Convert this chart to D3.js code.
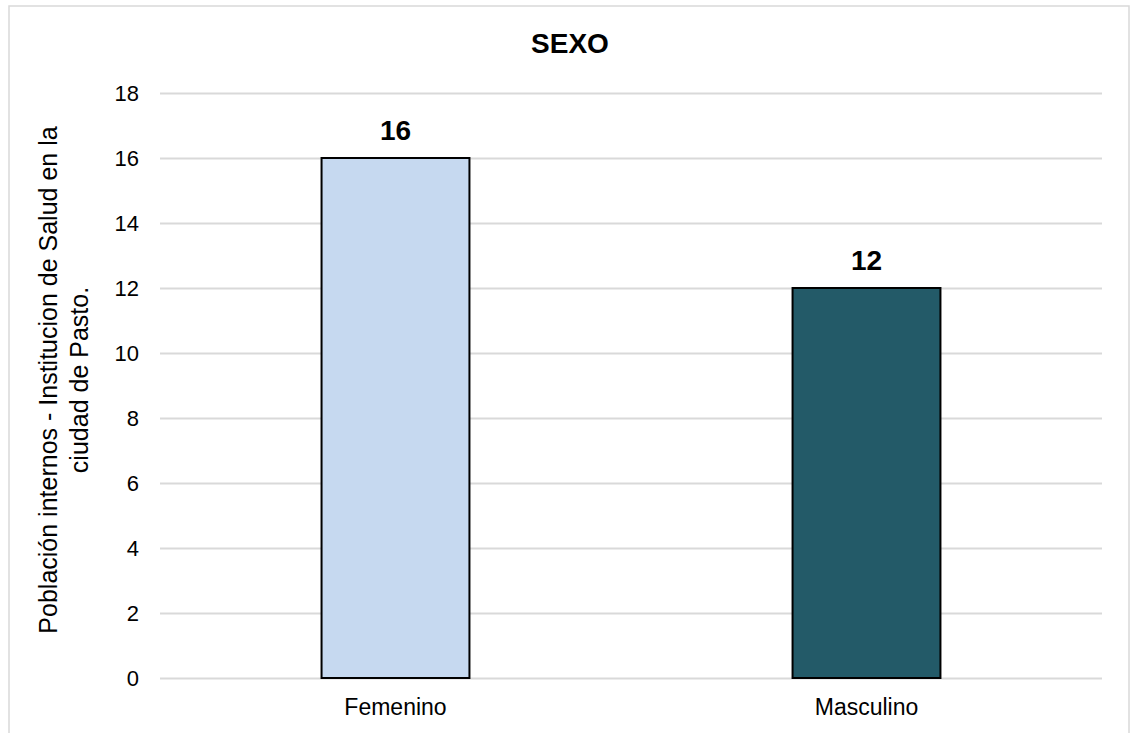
<!DOCTYPE html>
<html lang="es">
<head>
<meta charset="UTF-8">
<title>SEXO</title>
<script src="https://d3js.org/d3.v7.min.js"></script>
<style>
    body {margin: 0; background: white;}
    text {font-family: "Liberation Sans", Arial, sans-serif; fill: black;}
    .grid line {stroke: #d9d9d9; stroke-width: 2;}
    .grid path {display: none;}
</style>
</head>
<body>
<div id="chart"></div>
<script>
    // data
    var categories = ["Femenino", "Masculino"];
    var values = [16, 12];
    var barColors = ["#c6d9f0", "#235a68"];
    var yTicks = [0, 2, 4, 6, 8, 10, 12, 14, 16, 18];

    var W = 1131, H = 733;
    var margin = {top: 93, right: 29, bottom: 55, left: 160},
        width = W - margin.left - margin.right,
        height = H - margin.top - margin.bottom;

    var svg = d3.select("#chart").append("svg")
        .attr("width", W)
        .attr("height", H);

    // chart border
    svg.append("rect")
        .attr("x", 9).attr("y", 6)
        .attr("width", 1120).attr("height", 740)
        .attr("fill", "none")
        .attr("stroke", "#d9d9d9")
        .attr("stroke-width", 1.5);

    var g = svg.append("g")
        .attr("transform", "translate(" + margin.left + "," + margin.top + ")");

    var x = d3.scaleBand()
        .domain(categories)
        .range([0, width])
        .paddingInner(0.686)
        .paddingOuter(0.343);

    var y = d3.scaleLinear()
        .domain([0, 18])
        .range([height, 0]);

    // gridlines
    g.append("g")
        .attr("class", "grid")
        .call(d3.axisLeft(y).tickValues(yTicks).tickSize(-width).tickFormat(""));

    // y tick labels
    g.selectAll(".ytick")
        .data(yTicks)
        .enter().append("text")
        .attr("class", "ytick")
        .attr("x", -21)
        .attr("y", function(d) {return y(d)})
        .attr("dy", "0.36em")
        .attr("text-anchor", "end")
        .style("font-size", "22px")
        .text(function(d) {return d});

    // bars
    g.selectAll(".bar")
        .data(values)
        .enter().append("rect")
        .attr("class", "bar")
        .attr("x", function(d, i) {return x(categories[i])})
        .attr("y", function(d) {return y(d)})
        .attr("width", x.bandwidth())
        .attr("height", function(d) {return height - y(d)})
        .attr("fill", function(d, i) {return barColors[i]})
        .attr("stroke", "black")
        .attr("stroke-width", 2);

    // value labels
    g.selectAll(".val")
        .data(values)
        .enter().append("text")
        .attr("class", "val")
        .attr("x", function(d, i) {return x(categories[i]) + x.bandwidth() / 2})
        .attr("y", function(d) {return y(d) - 18})
        .attr("text-anchor", "middle")
        .style("font-size", "28px")
        .style("font-weight", "bold")
        .text(function(d) {return d});

    // x labels
    g.selectAll(".xlab")
        .data(categories)
        .enter().append("text")
        .attr("class", "xlab")
        .attr("x", function(d) {return x(d) + x.bandwidth() / 2})
        .attr("y", height + 37)
        .attr("text-anchor", "middle")
        .style("font-size", "23px")
        .text(function(d) {return d});

    // title
    svg.append("text")
        .attr("x", 570)
        .attr("y", 53)
        .attr("text-anchor", "middle")
        .style("font-size", "28px")
        .style("font-weight", "bold")
        .text("SEXO");

    // y axis title, two lines
    var yt = svg.append("text")
        .attr("transform", "translate(0,380) rotate(-90)")
        .attr("text-anchor", "middle")
        .style("font-size", "25px");
    yt.append("tspan").attr("x", 0).attr("y", 57).text("Población internos - Institucion de Salud en la");
    yt.append("tspan").attr("x", 0).attr("y", 88).text("ciudad de Pasto.");
</script>
</body>
</html>
